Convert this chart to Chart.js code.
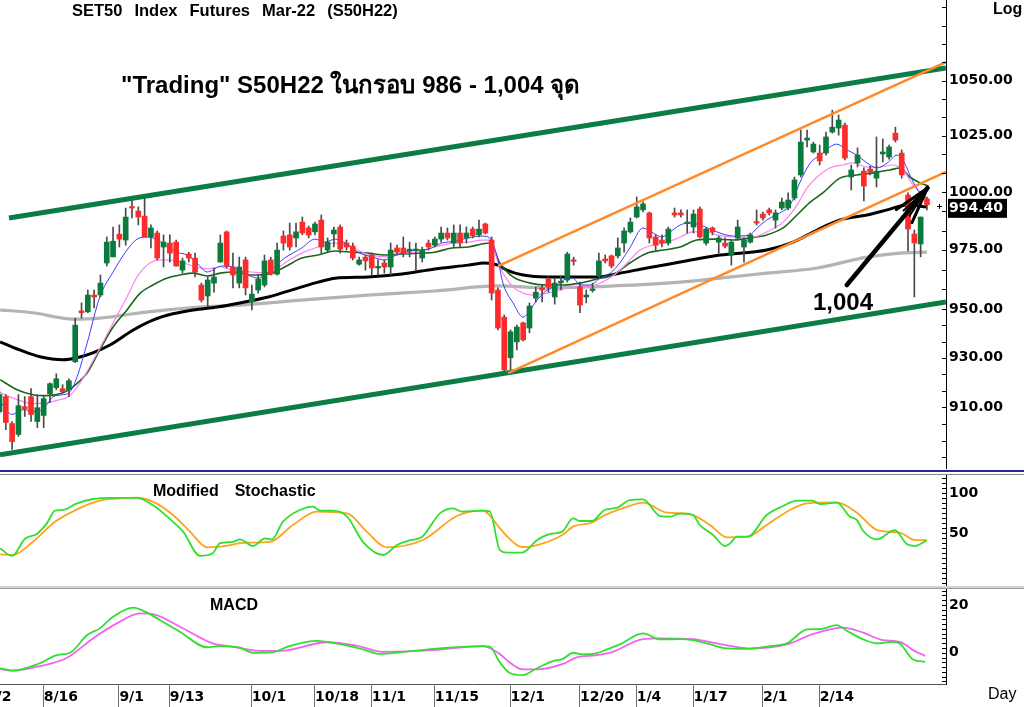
<!DOCTYPE html>
<html><head><meta charset="utf-8">
<script src="https://cdn.jsdelivr.net/npm/chart.js"></script>
<style>
html,body{margin:0;padding:0;background:#fff;}
#wrap{position:relative;width:1024px;height:707px;overflow:hidden;background:#fff;}
canvas{position:absolute;left:0;}
.t{position:absolute;white-space:pre;line-height:1;color:#000;font-family:"Liberation Sans",Arial,sans-serif;z-index:5;}
.b{font-weight:bold;}
.sep{position:absolute;left:0;width:1024px;z-index:4;}
</style></head><body>
<div id="wrap">
<canvas id="cMain" width="1024" height="469" style="top:0"></canvas>
<canvas id="cStoch" width="1024" height="111" style="top:475px"></canvas>
<canvas id="cMacd" width="1024" height="118" style="top:589px"></canvas>
<div class="sep" style="top:470px;height:2px;background:#26268f"></div>
<div class="sep" style="top:474px;height:1px;background:#8a8a8a"></div>
<div class="sep" style="top:586px;height:2px;background:#d2d2d2"></div>
<div class="sep" style="top:588px;height:1px;background:#9a9a9a"></div>
<div class="t b" style="left:72px;top:2px;font-size:16.5px;word-spacing:7.4px">SET50 Index Futures Mar-22 (S50H22)</div>
<div class="t b" style="left:121px;top:73px;font-size:24px">"Trading" S50H22 ในกรอบ 986 - 1,004 จุด</div>
<div class="t b" style="left:813px;top:290px;font-size:24px">1,004</div>
<div class="t b" style="left:153px;top:483px;font-size:16px;word-spacing:3.5px">Modified  Stochastic</div>
<div class="t b" style="left:210px;top:597px;font-size:16px">MACD</div>
<div class="t b" style="left:993px;top:1px;font-size:16px">Log</div>
<div class="t" style="left:988px;top:686px;font-size:16px">Day</div>
</div>
<script>
// ---------------- DATA ----------------
const tickLabels = ['8/2','8/16','9/1','9/13','10/1','10/18','11/1','11/15','12/1','12/20','1/4','1/17','2/1','2/14'];
const tickIdx = [-2,7,19,27,40,50,59,69,81,92,101,110,121,130];

const candleOpen = [908.3,914.3,903.6,899.3,910.3,914.3,904.4,906.8,915.5,917.9,
917.5,917.1,928.4,949.3,948.9,955.9,955.9,969.4,972.0,981.7,
979.2,993.5,991.7,989.5,980.5,982.2,976.2,977.9,978.3,966.4,
973.2,971.5,960.1,955.5,960.9,969.8,982.7,967.7,960.9,970.7,
953.0,958.0,960.1,970.7,964.7,980.9,981.4,980.1,986.9,984.4,
982.7,987.8,974.9,981.8,984.8,977.9,976.6,968.9,971.9,972.8,
967.3,969.4,967.7,975.8,975.8,974.5,974.7,971.5,977.9,977.0,
979.6,982.2,977.9,982.2,980.1,983.9,981.4,986.1,979.2,958.0,
946.7,930.0,936.5,944.3,942.2,954.6,958.9,962.6,955.1,961.1,
962.2,970.3,959.3,955.1,957.8,963.9,971.1,972.4,972.4,977.9,
982.7,989.1,992.2,990.9,980.5,979.2,977.9,990.9,990.9,986.3,
984.8,992.6,977.9,984.4,978.3,977.9,972.8,980.1,976.2,978.3,
986.9,990.4,992.2,987.8,993.0,993.0,997.4,1007.5,1023.0,1017.7,
1017.2,1017.2,1026.6,1028.4,1029.7,1006.6,1012.8,1009.2,1010.1,1006.1,
1016.8,1015.4,1026.1,1017.2,998.7,981.8,977.5,997.0];
const candleHigh = [916.3,915.1,904.4,915.1,914.3,917.5,915.1,914.7,919.9,923.5,
919.1,921.5,946.3,952.6,958.0,958.0,964.3,980.5,984.8,985.7,
993.0,996.5,993.5,997.4,985.7,983.1,981.4,981.4,979.2,971.5,
974.0,973.6,960.9,963.5,967.3,981.4,983.1,973.6,971.9,971.9,
960.1,964.3,972.8,971.9,977.9,983.1,986.5,986.5,989.1,985.2,
986.9,990.0,980.1,984.8,985.7,979.2,977.9,971.9,972.8,973.6,
970.7,970.7,977.9,977.0,980.5,978.3,977.9,976.2,979.2,980.5,
984.8,984.4,985.7,985.7,984.8,984.8,987.8,986.5,980.5,958.9,
947.6,941.4,943.4,944.7,952.6,959.3,960.1,963.5,963.0,963.9,
974.0,971.9,961.3,958.0,960.9,973.6,972.8,972.8,980.1,984.4,
988.7,997.8,995.7,991.3,981.4,981.4,984.8,993.0,992.2,992.2,
992.2,993.5,984.4,984.8,980.9,980.1,979.2,987.8,980.1,982.2,
992.2,991.3,993.0,992.2,997.4,999.6,1006.6,1027.5,1027.5,1022.1,
1020.8,1026.6,1036.5,1034.3,1030.6,1011.9,1019.5,1010.6,1011.4,1024.4,
1023.5,1020.8,1028.8,1018.6,999.6,983.5,989.1,997.8];
const candleLow = [907.5,901.2,893.4,898.5,906.4,904.4,902.0,902.0,911.9,917.1,
915.9,914.3,928.0,946.3,948.5,950.5,955.1,968.1,972.0,976.2,
977.0,988.7,985.7,980.5,975.8,970.7,967.7,969.8,968.1,965.1,
969.8,963.5,953.0,950.9,957.1,969.8,967.3,958.9,958.9,955.9,
949.7,956.7,959.3,964.3,964.3,974.9,974.9,976.2,981.4,980.1,
981.4,973.6,974.0,976.2,973.6,974.9,970.7,968.5,966.4,964.3,
964.3,965.1,964.3,972.8,972.0,972.0,966.4,969.8,974.9,976.2,
978.3,979.2,976.2,976.2,977.9,980.1,980.5,981.8,953.8,941.4,
924.3,924.7,933.2,936.9,940.2,953.0,953.0,957.1,952.1,958.0,
961.3,968.5,948.5,952.6,957.1,963.0,969.4,967.3,971.5,974.0,
982.2,988.7,991.3,977.9,974.9,976.2,977.0,989.1,989.1,982.2,
982.2,980.1,977.0,981.4,973.6,975.8,968.5,979.2,969.8,977.9,
985.7,987.8,990.0,984.4,992.2,992.2,996.5,1006.6,1019.9,1017.2,
1011.9,1016.3,1026.1,1025.2,1014.1,1000.9,1011.0,996.1,1007.5,1002.2,
1013.2,1014.5,1022.1,1006.1,974.5,955.1,972.0,992.2];
const candleClose = [915.1,904.0,896.5,910.7,909.5,907.2,909.9,913.5,919.5,921.5,
916.3,920.7,943.4,948.5,955.9,955.1,960.9,978.3,978.7,979.6,
989.1,993.0,989.1,980.5,984.4,971.5,978.3,973.6,968.1,970.3,
971.5,965.6,953.8,962.2,963.5,977.9,968.1,964.3,967.7,958.9,
956.3,962.6,970.3,964.7,974.9,977.9,976.2,982.7,982.2,981.4,
986.1,976.2,978.3,983.5,975.3,976.2,971.5,970.7,970.3,967.3,
967.7,967.7,974.9,974.0,973.6,975.3,974.9,974.9,976.2,979.6,
982.2,980.1,982.2,977.9,982.2,981.0,983.9,982.2,956.7,942.2,
925.1,940.6,942.6,937.3,951.3,957.1,958.0,959.3,960.9,961.3,
973.2,970.1,951.7,955.9,958.0,970.3,970.3,968.1,975.8,983.1,
986.9,993.5,994.8,980.1,977.0,977.9,983.9,990.0,990.0,986.5,
990.4,980.5,983.9,982.7,980.1,976.6,978.3,984.8,979.2,981.4,
986.5,988.7,990.9,990.9,995.6,996.5,1005.3,1022.1,1023.9,1021.2,
1013.7,1024.4,1028.8,1032.0,1015.0,1009.7,1016.3,1002.6,1008.8,1009.2,
1017.7,1019.9,1023.0,1007.5,983.9,977.9,989.1,994.4];

// moving averages: [candle index, price]
const maFast = [[0.1,912.3],[2.0,907.2],[3.7,909.1],[5.9,908.3],[7.5,911.1],[8.5,914.3],[10.1,915.1],[11.2,916.3],[12.3,922.3],[13.9,936.1],[15.9,955.1],[18.0,965.6],[20.2,974.9],[21.8,979.6],[23.4,980.5],[24.3,980.1],[25.9,977.9],[28.1,974.0],[29.7,972.8],[31.3,969.4],[32.9,965.6],[33.8,966.4],[35.0,968.1],[37.0,967.7],[39.4,964.3],[41.0,963.0],[42.6,965.6],[45.2,971.5],[47.9,975.8],[50.0,979.6],[51.6,978.3],[53.2,979.6],[54.8,977.9],[56.8,974.0],[59.0,972.0],[61.1,970.7],[62.2,972.0],[63.8,973.6],[65.9,974.9],[67.9,975.3],[70.1,977.9],[72.2,978.7],[74.3,980.1],[76.5,980.9],[77.7,980.1],[78.9,972.0],[79.8,960.9],[81.4,952.6],[83.0,946.7],[84.1,949.7],[85.2,953.8],[86.8,958.0],[88.4,960.1],[90.0,963.0],[90.9,963.0],[92.0,960.1],[93.6,960.1],[95.2,963.0],[96.8,965.1],[98.3,969.4],[99.9,975.8],[102.0,984.4],[103.6,982.2],[105.0,980.5],[106.3,982.7],[107.9,985.7],[109.4,986.5],[111.0,985.7],[113.7,982.7],[116.3,980.9],[118.9,981.4],[120.1,984.4],[121.6,987.8],[123.7,990.9],[125.3,994.3],[126.9,1004.4],[128.5,1012.8],[130.1,1016.3],[131.6,1019.9],[132.7,1021.2],[134.3,1018.6],[135.9,1016.3],[137.5,1012.8],[139.1,1010.6],[140.7,1012.8],[142.3,1016.3],[143.2,1014.1],[144.8,1004.4],[145.9,999.6],[147.2,996.5]];
const maMid = [[0.1,915.9],[2.8,913.1],[5.3,911.5],[7.5,911.9],[9.6,913.1],[10.9,914.3],[12.8,919.9],[15.5,932.0],[18.0,944.3],[20.2,955.1],[21.8,963.5],[23.4,968.5],[25.4,970.7],[28.1,970.3],[30.7,968.1],[32.9,966.9],[35.0,967.7],[37.0,966.4],[40.0,965.6],[42.6,965.1],[45.2,969.4],[47.9,973.6],[50.5,976.2],[53.2,977.9],[55.2,977.0],[57.5,974.0],[59.5,972.4],[61.6,972.0],[63.8,973.6],[66.3,974.0],[69.0,976.2],[71.7,977.9],[74.3,978.3],[76.6,979.2],[77.7,979.2],[79.3,967.7],[81.4,959.3],[83.0,956.7],[84.6,955.9],[86.8,956.7],[88.8,958.0],[90.9,959.3],[93.1,959.3],[95.2,960.9],[97.2,963.9],[99.5,969.4],[101.5,974.9],[103.6,977.0],[105.8,978.3],[107.9,980.5],[109.9,982.7],[112.1,982.7],[113.7,981.4],[116.3,980.5],[119.4,980.5],[121.6,982.7],[124.2,986.9],[126.4,994.3],[128.0,1001.8],[129.6,1006.6],[131.6,1010.6],[133.7,1011.9],[135.3,1012.8],[137.5,1011.0],[139.5,1011.0],[141.6,1011.9],[143.2,1009.7],[144.8,1003.1],[146.4,998.7],[147.2,996.5]];
const maSlow = [[0.1,921.1],[2.8,917.1],[5.3,915.1],[7.5,914.7],[10.1,915.9],[11.5,917.9],[13.9,923.9],[15.9,933.2],[18.0,942.6],[20.2,949.7],[22.3,956.7],[24.3,960.1],[26.5,963.0],[28.6,964.3],[30.7,965.1],[32.9,963.9],[35.0,965.1],[37.0,965.6],[40.0,964.3],[42.6,964.7],[45.2,967.7],[47.9,971.5],[50.5,972.8],[53.2,974.5],[55.9,974.0],[58.4,973.6],[61.1,972.8],[63.8,973.2],[66.3,973.6],[69.0,974.0],[71.7,975.8],[74.3,976.2],[76.5,977.5],[77.7,977.9],[79.3,969.4],[81.4,963.5],[84.1,960.9],[86.8,960.1],[89.3,960.1],[92.0,960.9],[94.7,962.6],[97.2,964.3],[99.9,969.4],[102.6,973.6],[105.2,974.9],[107.9,976.2],[110.5,979.2],[113.1,979.6],[116.3,979.2],[118.9,980.1],[121.6,981.4],[124.2,984.4],[126.4,990.0],[128.5,995.6],[130.5,999.6],[133.2,1006.1],[135.9,1007.5],[138.5,1008.4],[141.1,1009.7],[142.7,1010.6],[144.3,1006.6],[145.9,1004.0],[147.2,1002.6]];
const maLong = [[0.1,936.5],[3.2,933.2],[6.4,930.4],[10.1,929.2],[12.3,930.0],[14.8,932.0],[17.5,935.2],[21.2,941.4],[24.3,945.5],[27.5,948.1],[30.7,949.7],[34.5,950.9],[38.1,952.6],[42.6,955.1],[45.2,957.1],[47.9,959.3],[50.5,961.3],[53.2,963.0],[58.4,963.5],[63.8,964.7],[69.0,966.9],[74.3,968.5],[76.9,969.4],[79.0,968.5],[80.4,966.4],[83.0,964.3],[86.8,963.5],[90.9,963.5],[94.7,963.5],[98.3,965.1],[102.6,967.3],[107.9,969.8],[114.2,972.8],[121.6,974.9],[125.8,978.3],[129.6,983.5],[133.2,987.8],[137.5,990.0],[140.7,992.2],[143.8,994.3],[147.0,993.5]];
const maVeryLong = [[0.1,949.7],[5.3,948.5],[11.6,945.9],[15.9,946.3],[21.2,948.1],[26.5,949.7],[31.8,950.9],[38.1,951.7],[47.9,953.8],[58.4,955.9],[69.0,957.6],[79.0,959.7],[86.8,958.9],[97.2,959.7],[107.9,961.3],[114.2,963.0],[121.6,965.1],[129.6,967.3],[137.5,971.9],[142.7,973.6],[147.0,974.0]];

// trend lines and arrow: [candle index, price]
const channelUpper = [[1.5,988.7],[150,1055.8]];
const channelLower = [[0.08,891.3],[150,953.0]];
const trendUpper = [[79.0,968.1],[150,1058.5]];
const trendLower = [[80.6,923.8],[150,1008.8]];
const arrowLine = [[134.3,960.1],[147.1,1001.8]];

const priceTicks = [910,930,950,975,1000,1025,1050];
const stochTicks = [50,100];
const macdTicks = [0,20];

const stochK = [[0.1,30.9],[2.0,21.3],[4.0,42.5],[5.9,48.8],[7.5,62],[8.8,78],[10.1,78.8],[12.3,87],[14.8,92.5],[17.5,94],[21.8,94],[24.3,85],[27.5,64],[29.1,51.7],[31.8,21.3],[33.8,24.6],[34.9,37],[37.0,39],[38.1,42],[40.2,33.7],[42.1,43.3],[43.2,42],[44.9,64],[47.6,78.8],[49.7,82.9],[50.8,77.9],[52.9,77.9],[55.1,70.4],[57.6,39],[60.8,22.5],[63.0,35],[65.1,41],[66.9,44.6],[69.8,74.6],[71.9,80.9],[73.3,76.7],[76.6,77.9],[77.7,77],[79.3,28.8],[80.4,25.4],[82.8,25.4],[85.2,41],[87.3,48.8],[89.2,51.7],[90.9,68.3],[92.0,65],[93.9,65],[95.9,78.8],[97.9,81.7],[99.9,91.2],[102.0,92],[104.7,71.2],[106.3,70.4],[107.9,74.6],[109.9,72.5],[111.0,60],[113.1,47.5],[115.0,33.7],[115.8,37],[116.9,45.4],[118.6,45.4],[121.6,72.5],[124.2,83.7],[126.4,90.4],[128.8,90.4],[130.1,86.2],[132.7,87.9],[134.8,70.4],[135.9,66.2],[136.9,52.5],[139.1,42],[141.9,53.7],[143.8,36.2],[145.1,33.7],[147.0,41]];
const stochD = [[0.1,23.3],[2.1,22.5],[5.3,39],[8.8,64],[12.3,79.6],[15.9,90.4],[18.6,92.9],[21.8,94.2],[24.3,89.2],[27.5,72.5],[30.2,51.7],[32.9,32],[34.9,32.9],[39.2,37.9],[42.9,39],[46.5,60],[50.3,76.7],[55.1,74.6],[58.2,51.7],[61.4,32],[67.1,41.2],[72.5,71.2],[76.6,77.9],[79.3,56],[80.4,46.2],[82.8,32.5],[84.6,33.7],[89.2,47.5],[90.9,57.9],[93.9,62.9],[95.7,71.2],[99.5,82.9],[102.0,87.9],[105.8,75.4],[109.4,73.7],[112.6,60],[115.3,44.6],[118.6,45.4],[121.6,60],[125.3,78.8],[128.0,87.1],[132.7,88.3],[135.9,75.4],[139.1,53.7],[142.7,50.4],[145.1,41.2],[147.0,41.2]];
const macdLine = [[0.1,-6.5],[2.1,-7.5],[6.4,-4.4],[9.1,-1.0],[11.2,0],[13.9,7.4],[15.9,10.2],[18.0,15.1],[21.2,18.9],[23.4,16.8],[25.4,13.7],[28.6,8.8],[32.9,2.3],[34.9,2.8],[38.1,2.1],[40.2,0],[43.3,0.2],[45.6,2.5],[50.3,5.0],[54.0,3.6],[57.6,1.4],[60.3,-0.5],[63.5,0.2],[69.8,1.8],[76.6,2.8],[77.7,2.6],[79.3,-4],[80.9,-8.5],[82.9,-9.4],[85.2,-6.5],[87.7,-3.5],[89.3,-2.6],[90.9,0],[92.5,-0.7],[94.1,-0.5],[96.3,1.4],[98.3,3.5],[102.0,8.1],[104.7,5.6],[107.9,5.7],[109.9,5.3],[112.1,3.9],[115.3,1.8],[118.5,1.6],[122.1,2.8],[124.8,3.9],[128.0,9.8],[130.1,9.9],[132.7,11.6],[134.3,9.2],[136.9,5.6],[139.1,3.9],[141.6,4.6],[142.7,3.9],[144.8,-2.8],[146.7,-3.8]];
const macdSignal = [[0.1,-6.9],[2.1,-7.5],[6.4,-5.6],[10.7,-2.1],[14.8,6.0],[18.6,12.3],[22.3,16.5],[24.3,16.2],[28.6,10.9],[33.8,3.9],[37.0,2.5],[41.3,0.8],[44.5,0.8],[51.9,4.4],[56.7,2.9],[60.8,0.4],[68.7,1.1],[76.6,2.8],[79.3,-0.5],[80.4,-3.1],[82.9,-7],[85.2,-7],[89.3,-4.7],[91.5,-1.9],[94.7,-1.0],[97.2,0.4],[102.0,5.7],[104.7,6.0],[109.9,5.7],[114.2,3.6],[119.4,1.8],[124.8,3.5],[128.9,7.8],[133.7,10.5],[136.9,8.4],[140.0,5.3],[142.7,4.6],[144.8,1.1],[146.7,-1.3]];

// ---------------- CHARTS ----------------
const X_MIN = 0.079, X_MAX = 150.02;
const GREEN = '#0a7b3c', RED = '#ff2a2a';
const AXIS_FONT = {family:'DejaVu Sans', weight:'bold', size:14};
const pts = a => a.map(p => ({x:p[0], y:p[1]}));

function lineDS(data, color, width, order, mono) {
  return {type:'line', data:pts(data), borderColor:color, borderWidth:width, pointRadius:0,
    fill:false, order, tension:0, cubicInterpolationMode: mono ? 'monotone' : 'default'};
}
function yAxis(type, min, max, vals, fmt) {
  return {type, position:'right', min, max,
    afterBuildTicks: s => { s.ticks = vals.map(v => ({value:v})); },
    afterFit: s => { s.width = 78; s.paddingTop = 0; s.paddingBottom = 0; },
    ticks:{callback:fmt, color:'#000', font:AXIS_FONT, padding:3, autoSkip:false},
    grid:{display:false, drawTicks:false},
    border:{display:true, color:'#000', width:1}};
}
const hiddenX = {type:'linear', min:X_MIN, max:X_MAX, display:false, offset:false};
function opts(x, y) {
  return {responsive:false, animation:false, events:[], layout:{padding:0},
    plugins:{legend:{display:false}, tooltip:{enabled:false}}, scales:{x, y}};
}
function minorTicksPlugin(values) {
  return {id:'minorTicks', afterDraw(chart) {
    const ys = chart.scales.y, ca = chart.chartArea, ctx = chart.ctx;
    ctx.save(); ctx.strokeStyle = '#000'; ctx.lineWidth = 1; ctx.beginPath();
    values.forEach(v => {
      const py = Math.round(ys.getPixelForValue(v)) + 0.5;
      if (py < ca.top || py > ca.bottom) return;
      ctx.moveTo(ca.right - 4, py); ctx.lineTo(ca.right, py);
    });
    ctx.stroke(); ctx.restore();
  }};
}

// minor tick positions (axis decoration)
const mainMinor = [];
for (let i = 0; i < priceTicks.length - 1; i++) {
  const a = priceTicks[i], b = priceTicks[i+1];
  for (let j = 0; j < 3; j++) mainMinor.push(a * Math.pow(b/a, j/3));
}
mainMinor.push(1050);
{ let r = Math.pow(1050/1025, 1/3); for (let v = 1050*r; v < 1090; v *= r) mainMinor.push(v);
  r = Math.pow(930/910, 1/3); for (let v = 910/r; v > 884; v /= r) mainMinor.push(v); }
const stochMinor = []; for (let v = -12.5; v <= 120; v += 6.25) stochMinor.push(v);
const macdMinor = []; for (let v = -12; v <= 26; v += 2) macdMinor.push(v);

// main price chart
const bodyData = candleOpen.map((o,i) => ({x:i, y:[o, candleClose[i]]}));
const wickData = candleOpen.map((o,i) => ({x:i, y:[candleLow[i], candleHigh[i]]}));
const bodyColors = candleOpen.map((o,i) => candleClose[i] >= o ? GREEN : RED);

const mainExtras = {id:'mainExtras',
  afterDatasetsDraw(chart) {
    const xs = chart.scales.x, ys = chart.scales.y, ctx = chart.ctx;
    const p0 = {x:xs.getPixelForValue(arrowLine[0][0]), y:ys.getPixelForValue(arrowLine[0][1])};
    const p1 = {x:xs.getPixelForValue(arrowLine[1][0]), y:ys.getPixelForValue(arrowLine[1][1])};
    ctx.save(); ctx.strokeStyle = '#000'; ctx.lineCap = 'round';
    ctx.lineWidth = 4.5; ctx.beginPath(); ctx.moveTo(p0.x, p0.y); ctx.lineTo(p1.x, p1.y); ctx.stroke();
    const ang = Math.atan2(p0.y - p1.y, p0.x - p1.x);
    [[-0.27,38,3],[0.27,38,3],[-0.12,33,2],[0.12,33,2]].forEach(([d,len,w]) => {
      ctx.lineWidth = w; ctx.beginPath(); ctx.moveTo(p1.x, p1.y);
      ctx.lineTo(p1.x + len*Math.cos(ang+d), p1.y + len*Math.sin(ang+d)); ctx.stroke();
    });
    ctx.restore();
  },
  afterDraw(chart) {
    const ys = chart.scales.y, ca = chart.chartArea, ctx = chart.ctx;
    const last = candleClose[candleClose.length - 1];
    const py = ys.getPixelForValue(last);
    ctx.save();
    ctx.fillStyle = '#000'; ctx.fillRect(ca.right + 2, py - 6, 59, 19);
    ctx.fillStyle = '#fff'; ctx.font = 'bold 14px "DejaVu Sans"'; ctx.textAlign = 'left'; ctx.textBaseline = 'middle';
    ctx.fillText(last.toFixed(2), ca.right + 3, py + 4);
    ctx.strokeStyle = '#000'; ctx.lineWidth = 1; ctx.beginPath();
    ctx.moveTo(ca.right - 9, Math.round(py) + 1.5); ctx.lineTo(ca.right - 4, Math.round(py) + 1.5);
    ctx.moveTo(ca.right - 6.5, py - 1); ctx.lineTo(ca.right - 6.5, py + 4); ctx.stroke();
    ctx.restore();
  }};

new Chart(document.getElementById('cMain'), {
  type:'bar',
  data:{datasets:[
    lineDS(trendUpper, '#ff8a2a', 2.5, 0),
    lineDS(trendLower, '#ff8a2a', 2.5, 0),
    lineDS(channelUpper, '#0b7d44', 5, 1),
    lineDS(channelLower, '#0b7d44', 5, 1),
    {type:'bar', data:bodyData, backgroundColor:bodyColors, barThickness:5, grouped:false, minBarLength:1.5, borderWidth:0, order:2},
    {type:'bar', data:wickData, backgroundColor:'#4a4a4a', barThickness:1, grouped:false, borderWidth:0, order:3},
    lineDS(maFast, '#3c3cff', 1, 4, true),
    lineDS(maMid, '#ff84f0', 1.2, 5, true),
    lineDS(maSlow, '#19661a', 1.6, 6, true),
    lineDS(maLong, '#000000', 3, 7, true),
    lineDS(maVeryLong, '#b4b4b4', 3.2, 8, true)
  ]},
  options:opts(hiddenX, yAxis('logarithmic', 885.8, 1087.7, priceTicks, v => Number(v).toFixed(2))),
  plugins:[minorTicksPlugin(mainMinor), mainExtras]
});

// stochastic
new Chart(document.getElementById('cStoch'), {
  type:'line',
  data:{datasets:[
    lineDS(stochK, '#2fe02f', 1.8, 0, true),
    lineDS(stochD, '#ffa21f', 1.8, 1, true)
  ]},
  options:opts(hiddenX, yAxis('linear', -16.25, 122.5, stochTicks, v => String(v))),
  plugins:[minorTicksPlugin(stochMinor)]
});

// MACD with date axis
const dateAxis = {type:'linear', position:'bottom', min:X_MIN, max:X_MAX, offset:false,
  afterBuildTicks: s => { s.ticks = tickIdx.map(v => ({value:v})); },
  afterFit: s => { s.height = 23; s.paddingLeft = 0; s.paddingRight = 0; },
  ticks:{callback:(v,i) => tickLabels[i], align:'start', maxRotation:0, minRotation:0, autoSkip:false,
    color:'#000', font:AXIS_FONT, padding:5},
  grid:{display:false, drawTicks:false},
  border:{display:true, color:'#555', width:1}};
const dateLines = {id:'dateLines', afterDraw(chart) {
  const xs = chart.scales.x, ca = chart.chartArea, ctx = chart.ctx;
  ctx.save(); ctx.strokeStyle = '#6f6f6f'; ctx.lineWidth = 1; ctx.beginPath();
  tickIdx.forEach(k => {
    const px = Math.round(xs.getPixelForValue(k) - 1) + 0.5;
    ctx.moveTo(px, ca.bottom); ctx.lineTo(px, chart.height);
  });
  ctx.stroke(); ctx.restore();
}};
new Chart(document.getElementById('cMacd'), {
  type:'line',
  data:{datasets:[
    lineDS(macdLine, '#2fe02f', 1.8, 0, true),
    lineDS(macdSignal, '#f262f2', 1.8, 1, true)
  ]},
  options:opts(dateAxis, yAxis('linear', -13.1, 26.7, macdTicks, v => String(v))),
  plugins:[minorTicksPlugin(macdMinor), dateLines]
});
</script>
</body></html>
